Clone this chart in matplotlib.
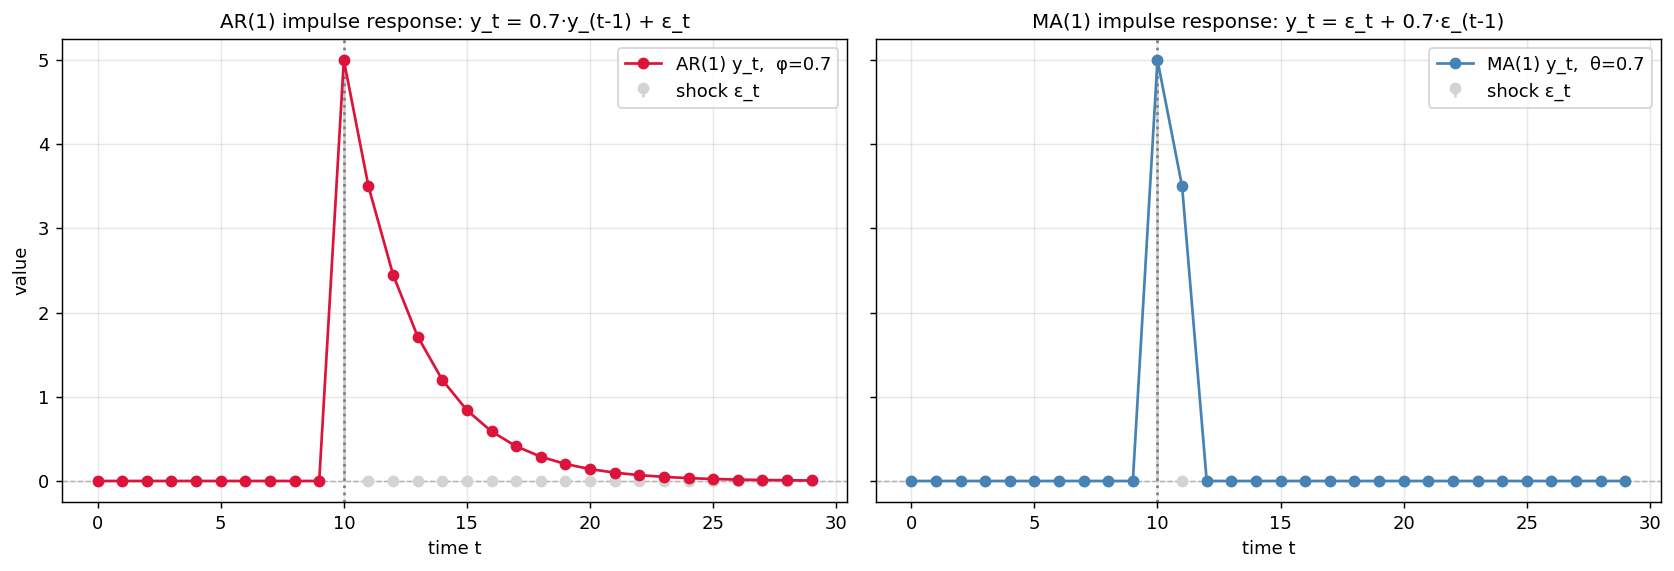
import numpy as np
import matplotlib
matplotlib.use("Agg")
import matplotlib.pyplot as plt

t = list(range(30))
shock = [0]*10 + [5] + [0]*19
ar_y = [0]*10 + [5.0, 3.5, 2.45, 1.715, 1.2005, 0.84035, 0.588245, 0.4117715, 0.28824005,
                 0.201768035, 0.1412376245, 0.09886633715, 0.069206436, 0.0484445052,
                 0.03391115364, 0.02373780755, 0.01661646528, 0.0116315257, 0.008142068,
                 0.0056994476]
ma_y = [0]*10 + [5.0, 3.5] + [0]*18

DPI = 130
fig, axes = plt.subplots(1, 2, figsize=(1674/DPI, 571/DPI), dpi=DPI, sharey=True)

panels = [
    (axes[0], ar_y, "crimson", "AR(1) y_t,  φ=0.7",
     "AR(1) impulse response: y_t = 0.7·y_(t-1) + ε_t"),
    (axes[1], ma_y, "steelblue", "MA(1) y_t,  θ=0.7",
     "MA(1) impulse response: y_t = ε_t + 0.7·ε_(t-1)"),
]

for ax, y, col, lab, title in panels:
    ax.axhline(0, color="gray", ls="--", lw=0.8, alpha=0.6, zorder=1)
    ax.axvline(10, color="gray", ls=":", lw=1.5, zorder=1.6)
    ax.plot(t, y, "-o", color=col, lw=1.5, ms=5.5, label=lab, zorder=3)
    mk, sl, bl = ax.stem(t, shock, linefmt="lightgray", markerfmt="o", basefmt=" ",
                         label="shock ε_t")
    mk.set_color("lightgray")
    mk.set_markersize(5.5)
    mk.set_zorder(2)
    sl.set_zorder(1.5)
    ax.set_title(title, fontsize=11)
    ax.set_xlabel("time t")
    ax.grid(True, alpha=0.3)
    ax.legend(loc="upper right")

axes[0].set_ylabel("value")
axes[0].set_xticks([0, 5, 10, 15, 20, 25, 30])
axes[1].set_xticks([0, 5, 10, 15, 20, 25, 30])

fig.subplots_adjust(left=0.037, right=0.9922, top=0.9317, bottom=0.1208, wspace=0.036)
fig.savefig("out.png", dpi=DPI)
